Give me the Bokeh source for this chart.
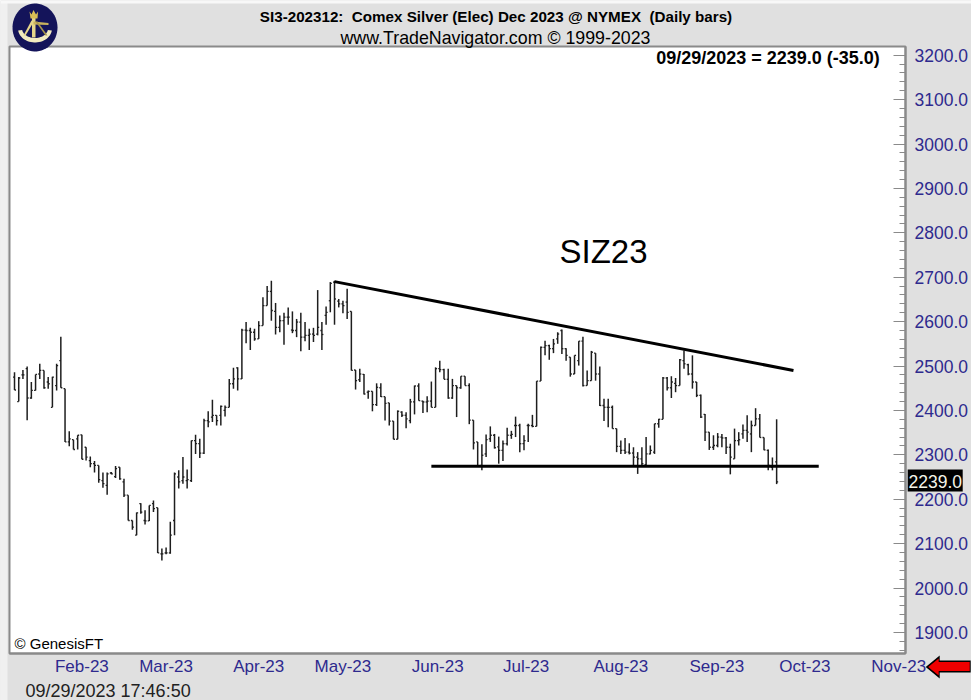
import numpy as np
from bokeh.plotting import figure
from bokeh.models import Label, FixedTicker, Range1d, LinearAxis, NumeralTickFormatter
from bokeh.embed import file_html
from bokeh.resources import INLINE

highs = [2486,2475,2491,2499,2464,2481,2505,2490,2475,2476,2505,2566,2449,2353,2334,2344,2345,2317,2296,2286,
 2276,2260,2260,2261,2275,2272,2246,2209,2152,2170,2191,2175,2186,2197,2181,2089,2091,2149,2260,2265,
 2295,2267,2332,2345,2336,2381,2398,2424,2389,2411,2411,2471,2496,2497,2584,2599,2586,2584,2601,2655,
 2680,2692,2642,2614,2620,2632,2623,2606,2620,2599,2584,2586,2671,2599,2634,2689,2692,2651,2647,2674,
 2623,2491,2494,2482,2445,2443,2461,2461,2431,2417,2376,2400,2398,2396,2426,2456,2461,2422,2432,2465,
 2497,2512,2494,2494,2471,2456,2477,2477,2461,2378,2329,2324,2346,2364,2347,2341,2332,2361,2354,2386,
 2370,2344,2370,2390,2466,2544,2557,2548,2561,2576,2582,2540,2520,2524,2556,2566,2490,2534,2529,2499,
 2426,2426,2411,2359,2332,2338,2326,2317,2306,2317,2340,2321,2370,2381,2475,2475,2477,2473,2516,2535,
 2505,2524,2464,2436,2392,2351,2344,2349,2347,2340,2325,2359,2351,2368,2389,2377,2405,2392,2339,2312,
 2294,2380]
lows = [2446,2420,2471,2378,2426,2445,2471,2449,2449,2407,2445,2451,2329,2319,2312,2312,2290,2287,2272,2260,
 2237,2226,2210,2256,2248,2244,2205,2152,2131,2119,2167,2143,2151,2171,2079,2062,2076,2077,2119,2224,
 2235,2224,2239,2302,2293,2302,2362,2374,2366,2366,2386,2407,2449,2445,2471,2551,2536,2557,2561,2591,
 2636,2602,2571,2576,2548,2593,2574,2565,2533,2556,2536,2554,2569,2536,2593,2621,2593,2632,2619,2606,
 2490,2447,2464,2436,2426,2398,2410,2430,2377,2366,2335,2335,2385,2360,2371,2391,2422,2394,2396,2407,
 2407,2486,2470,2426,2426,2385,2449,2456,2369,2312,2274,2265,2295,2329,2314,2280,2286,2321,2336,2340,
 2306,2310,2329,2362,2364,2466,2524,2514,2529,2550,2527,2512,2476,2482,2501,2454,2456,2467,2467,2410,
 2376,2362,2359,2306,2302,2302,2301,2276,2257,2276,2274,2301,2302,2361,2380,2445,2428,2441,2456,2494,
 2479,2449,2430,2383,2331,2311,2311,2317,2317,2302,2256,2291,2321,2336,2329,2306,2366,2339,2310,2265,
 2265,2234]
opens = [2475,2420,2480,2494,2428,2445,2482,2490,2464,2407,2456,2512,2449,2329,2334,2336,2345,2317,2287,2280,
 2276,2242,2231,2259,2251,2272,2239,2209,2152,2119,2190,2152,2151,2190,2181,2077,2079,2079,2152,2250,
 2242,2242,2242,2332,2325,2304,2377,2385,2389,2389,2400,2407,2460,2496,2471,2581,2580,2576,2561,2591,
 2636,2668,2623,2587,2602,2610,2581,2580,2599,2565,2569,2572,2572,2580,2614,2647,2689,2646,2640,2644,
 2623,2491,2469,2481,2441,2443,2413,2451,2431,2417,2376,2335,2396,2389,2377,2419,2455,2421,2419,2421,
 2407,2494,2492,2470,2428,2456,2451,2477,2456,2378,2329,2276,2302,2336,2344,2318,2310,2325,2344,2366,
 2366,2325,2366,2366,2364,2466,2542,2546,2539,2561,2580,2539,2520,2482,2512,2556,2456,2467,2529,2482,
 2411,2407,2407,2359,2319,2310,2306,2304,2295,2291,2278,2302,2306,2370,2380,2473,2451,2461,2456,2512,
 2503,2482,2464,2434,2391,2351,2317,2321,2340,2338,2317,2291,2332,2347,2355,2347,2366,2381,2339,2310,
 2272,2284]
closes = [2446,2473,2480,2428,2445,2481,2490,2451,2460,2475,2501,2451,2329,2336,2312,2344,2290,2295,2280,2276,
 2244,2235,2257,2257,2269,2246,2209,2152,2137,2169,2171,2151,2186,2179,2079,2077,2079,2119,2257,2239,
 2250,2244,2332,2325,2304,2377,2374,2389,2377,2409,2407,2460,2471,2471,2581,2580,2576,2561,2591,2636,
 2668,2625,2587,2602,2610,2610,2580,2599,2565,2569,2572,2569,2587,2571,2621,2686,2651,2640,2636,2621,
 2490,2467,2482,2437,2443,2413,2452,2431,2416,2376,2335,2398,2389,2381,2419,2455,2422,2419,2421,2407,
 2494,2492,2470,2428,2456,2451,2477,2456,2378,2327,2274,2299,2334,2344,2316,2310,2325,2344,2346,2366,
 2325,2332,2366,2364,2466,2542,2546,2539,2550,2572,2539,2524,2482,2524,2556,2456,2467,2531,2482,2411,
 2407,2407,2359,2319,2310,2306,2304,2295,2291,2280,2302,2310,2370,2380,2473,2451,2464,2456,2514,2505,
 2482,2464,2434,2385,2351,2317,2321,2340,2338,2317,2295,2332,2334,2355,2351,2366,2381,2339,2311,2276,
 2274,2239]

price_ticks = [1900,2000,2100,2200,2300,2400,2500,2600,2700,2800,2900,3000,3100,3200]
month_labels = ["Feb-23","Mar-23","Apr-23","May-23","Jun-23","Jul-23","Aug-23","Sep-23","Oct-23","Nov-23"]
month_pos = [16,36,58,78,100.5,121.5,144,166.8,187.7,210]
resistance_x = [76,185]
resistance_y = [2690,2490]
support_x = [99,191]
support_y = [2274,2274]

BG = "#E0E0E0"
BLUE = "#2E2A8E"
FRAME = "#8A8A8A"
FONT = "Liberation Sans"
W, H = 971, 700
XPX, YPX = 4.2097, 0.44401     # pixels per bar, pixels per price point
X0, X1 = -3.328, 227.28
Y0, Y1 = 1746.65, 3323.2
PL, PR, PB, PT = -1.19, 211.6, 1852.5, 3219.6     # inner chart window


def dx(px):
    return X0 + np.asarray(px, dtype=float) / XPX


def dy(py):
    return Y1 - np.asarray(py, dtype=float) / YPX


x = np.arange(len(highs))
p = figure(width=W, height=H, output_backend="svg", toolbar_location=None,
           x_range=Range1d(X0, X1), y_range=Range1d(Y0, Y1),
           x_axis_location=None, y_axis_location=None,
           min_border_left=0, min_border_right=0, min_border_top=0, min_border_bottom=0,
           background_fill_color=BG, border_fill_color=BG)
p.grid.visible = False
p.outline_line_color = None


def poly(xs, ys, fill):
    p.patch(dx(xs), dy(ys), fill_color=fill, line_color=None)


poly([0, 7, 7, 0], [0, 0, 700, 700], "#F0F0F0")
poly([0, 971, 971, 0], [0, 0, 3, 3], "#F8F8F8")

p.quad(left=[PL], right=[PR], bottom=[PB], top=[PT], fill_color="white", line_color=FRAME, line_width=2)

ya = LinearAxis(ticker=FixedTicker(ticks=price_ticks,
                minor_ticks=[v for v in range(1860, 3220, 20)]),
                fixed_location=PR, bounds=(PB, PT))
ya.formatter = NumeralTickFormatter(format="0.0")
ya.major_label_text_font = FONT
ya.major_label_text_font_size = "17.5px"
ya.major_label_text_color = BLUE
ya.major_label_standoff = 9
ya.major_tick_in = 12
ya.major_tick_out = 0
ya.minor_tick_in = 6
ya.minor_tick_out = 0
ya.major_tick_line_color = FRAME
ya.minor_tick_line_color = FRAME
ya.axis_line_color = FRAME
ya.axis_line_width = 2
p.add_layout(ya, "right")

xa = LinearAxis(ticker=FixedTicker(ticks=month_pos),
                major_label_overrides=dict(zip(month_pos, month_labels)),
                fixed_location=PB, bounds=(PL, PR))
xa.major_label_text_font = FONT
xa.major_label_text_font_size = "17px"
xa.major_label_text_color = BLUE
xa.major_label_standoff = -3
xa.major_tick_line_color = None
xa.minor_tick_line_color = None
xa.axis_line_color = FRAME
xa.axis_line_width = 2
p.add_layout(xa, "below")

c = "#1E1E1E"
p.segment(x, lows, x, highs, line_color=c, line_width=1.5)
p.segment(x - 0.36, opens, x, opens, line_color=c, line_width=1.3)
p.segment(x, closes, x + 0.36, closes, line_color=c, line_width=1.3)
p.line(resistance_x, resistance_y, line_color="black", line_width=3)
p.line(support_x, support_y, line_color="black", line_width=3)


def put(txt, px, py, size, color="black", bold=False, align="left", **kw):
    p.add_layout(Label(x=px, y=H - py, x_units="screen", y_units="screen", text=txt,
                       text_font=FONT, text_font_size=f"{size}px", text_color=color,
                       text_font_style="bold" if bold else "normal",
                       text_align=align, text_baseline="middle", **kw))


# logo
t = np.linspace(0, 2 * np.pi, 60)
poly(34.5 + 22.5 * np.cos(t), 27 + 24 * np.sin(t), "#14145A")
gold = "#E6D68A"
a = np.linspace(0.15, np.pi - 0.15, 30)
poly(np.r_[34.5 + 17 * np.cos(a), 34.5 + 13 * np.cos(a[::-1])],
     np.r_[28 + 14 * np.sin(a), 28 + 9.5 * np.sin(a[::-1])], "#F2EBC0")
poly([31.5, 35, 35, 31.5], [17, 17, 37, 37], gold)
poly([29, 31, 33, 35.5, 37.5, 37, 30], [11, 14, 9.5, 14, 11, 18, 18], "#D9BE55")
poly([31, 34, 25, 23], [20, 20, 35, 35], gold)
poly([33, 48, 48, 33], [21, 22.5, 24.5, 24], "#C9B25E")
poly([35, 37, 47, 45], [21, 21, 35, 35], "#A8964E")

# red arrow
poly([925, 939, 939, 970, 970, 939, 939], [666.5, 655, 660, 660, 672, 672, 678], "black")
poly([927.5, 938, 938, 969, 969, 938, 938], [666.5, 658, 661.5, 661.5, 670.5, 670.5, 675], "#F00000")

put("SI3-202312:\u00a0\u00a0Comex Silver (Elec) Dec 2023 @ NYMEX\u00a0\u00a0(Daily bars)", 495.5, 16, 15.2, bold=True, align="center")
put("www.TradeNavigator.com \u00a9 1999-2023", 495, 37, 17.8, align="center")
put("09/29/2023 = 2239.0 (-35.0)", 767.5, 57, 18, bold=True, align="center")
put("SIZ23", 603, 251, 33, align="center")
put("\u00a9 GenesisFT", 14, 643, 15)
put("09/29/2023 17:46:50", 25, 690, 18, color="#222222")

# last-price tag
poly([907, 962, 962, 907], [469, 469, 491, 491], "black")
put("2239.0", 908, 481, 17.5, color="#F4F4E8")

open("out.html", "w").write(file_html(p, INLINE))
